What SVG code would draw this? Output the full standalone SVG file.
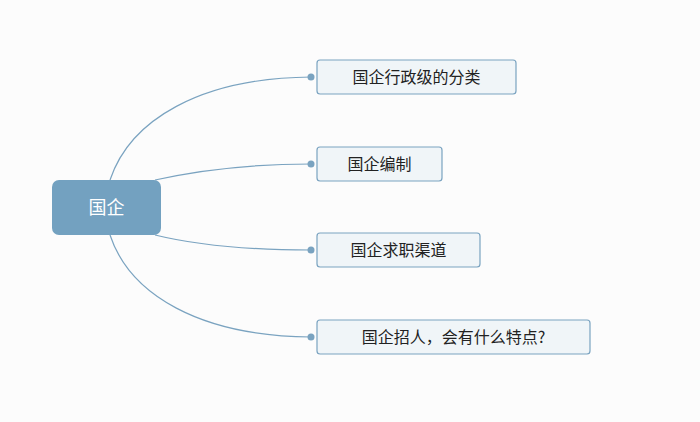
<svg xmlns="http://www.w3.org/2000/svg" width="700" height="422" viewBox="0 0 700 422">
<style>
.c{fill:none;stroke:#7aa3c0;stroke-width:1.2}
.d{fill:#7aa3c0}
.n{fill:#f0f5f8;stroke:#7aa3c0;stroke-width:1.2}
.t{font-family:"Noto Sans CJK SC",sans-serif;font-size:16px;fill:#222}
</style>
<rect width="700" height="422" fill="#fcfcfc"/>
<g id="connectors">
<path class="c" d="M110,180 C130,120 200,78 311,77"/>
<path class="c" d="M155,180 C200,170 250,164 311,164"/>
<path class="c" d="M155,235 C200,246 250,250 311,250"/>
<path class="c" d="M110,235 C130,295 200,336 311,337"/>
<circle class="d" cx="311" cy="77" r="3.5"/>
<circle class="d" cx="311" cy="164" r="3.5"/>
<circle class="d" cx="311" cy="250" r="3.5"/>
<circle class="d" cx="311" cy="337" r="3.5"/>
</g>
<g id="root"><rect x="52" y="180" width="109" height="55" rx="7" fill="#73a1c0"/><text x="106.5" y="214" text-anchor="middle" class="t" style="fill:#fff;font-size:18px">国企</text></g>
<g id="n1"><rect class="n" x="317" y="60" width="199" height="34" rx="3"/><text class="t" x="416.5" y="83" text-anchor="middle">国企行政级的分类</text></g>
<g id="n2"><rect class="n" x="317" y="147" width="125" height="34" rx="3"/><text class="t" x="379.5" y="170" text-anchor="middle">国企编制</text></g>
<g id="n3"><rect class="n" x="317" y="233" width="163" height="34" rx="3"/><text class="t" x="398.5" y="256" text-anchor="middle">国企求职渠道</text></g>
<g id="n4"><rect class="n" x="317" y="320" width="273" height="34" rx="3"/><text class="t" x="453.5" y="343" text-anchor="middle">国企招人，会有什么特点?</text></g>
</svg>
